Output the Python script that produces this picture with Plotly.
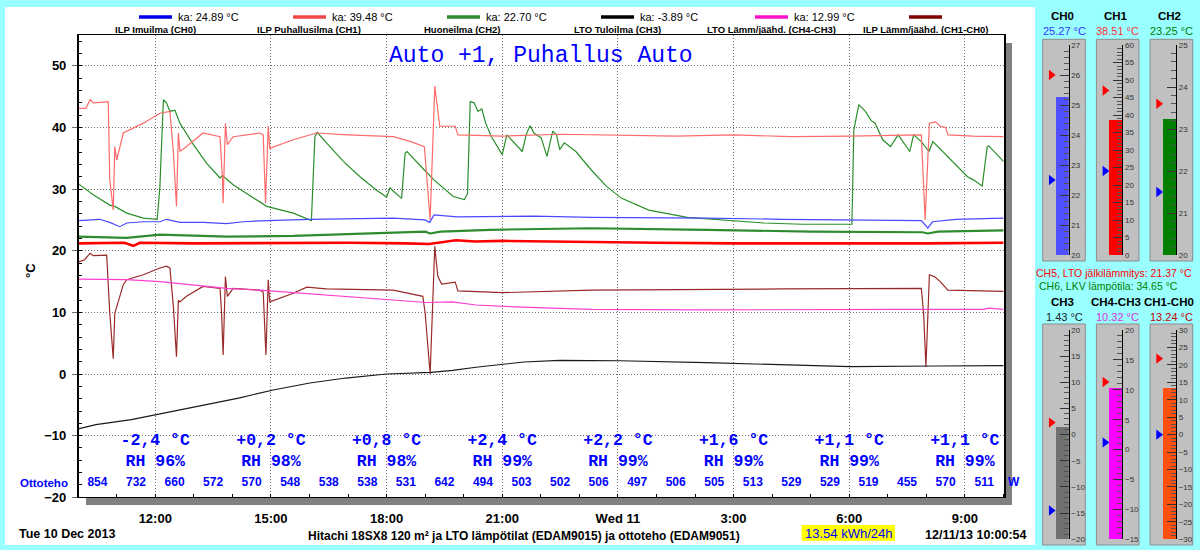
import pandas as pd
import plotly.graph_objects as go

W, H = 1200, 550
T0 = pd.Timestamp("2013-12-10 00:00:00")
T_START = "2013-12-10 10:00:50"
T_END = "2013-12-11 10:00:54"

# ---------------- data (hours since 10 Dec 00:00, values in degC) ----------------
ch0_h = [10.01, 10.56, 10.82, 11.08, 11.26, 11.69, 12.12, 12.29, 12.64, 13.24, 13.85, 14.28, 14.89, 16.01,
         18.17, 18.99, 19.12, 19.23, 19.83, 21.32, 21.82, 23.31, 26.29, 28.28, 30.02, 31.87, 32.04, 32.16,
         32.76, 34.0]
ch0_v = [24.9, 25.1, 24.6, 23.9, 24.5, 24.7, 24.7, 25.1, 24.6, 24.6, 24.4, 24.7, 24.9, 25.1,
         25.3, 25.0, 24.6, 25.8, 25.5, 25.5, 25.6, 25.4, 25.3, 25.1, 25.0, 24.9, 23.7, 24.7,
         25.1, 25.3]

ch1_h = [10.01, 10.2, 10.31, 10.4, 10.78, 10.82, 10.91, 10.95, 11.0, 11.17, 11.69, 12.12, 12.38, 12.47,
         12.55, 12.60, 12.64, 12.81, 13.24, 13.68, 13.74, 13.76, 13.82, 13.87, 14.02, 14.71, 14.80, 14.86,
         14.93, 14.97, 15.58, 16.18, 17.0, 18.17, 18.63, 18.98, 19.13, 19.25, 19.38, 19.78, 19.85, 21.0,
         22.5, 24.0, 25.5, 27.0, 28.5, 30.0, 31.0, 31.87, 31.97, 32.08, 32.24, 32.36, 32.50, 32.56, 33.2, 34.0]
ch1_v = [43.1, 43.1, 44.5, 44.0, 44.2, 31.5, 26.6, 36.9, 34.7, 39.1, 40.7, 42.3, 42.6, 36.0,
         27.2, 39.1, 36.1, 36.9, 39.1, 38.5, 32.0, 27.7, 40.7, 37.2, 38.5, 39.1, 38.8, 27.7,
         40.2, 36.6, 38.0, 39.1, 38.8, 38.5, 37.7, 36.9, 25.0, 46.7, 40.2, 40.2, 38.8, 38.6,
         38.9, 38.7, 38.6, 38.8, 38.5, 38.6, 38.7, 38.8, 25.0, 40.7, 40.9, 40.2, 40.0, 38.8, 38.6, 38.5]

ch2_h = [10.01, 11.26, 12.12, 13.85, 15.58, 17.31, 19.0, 19.13, 19.4, 20.7, 23.3, 26.3, 29.0, 31.9,
         32.04, 32.3, 34.0]
ch2_v = [22.3, 22.1, 22.6, 22.3, 22.4, 22.8, 23.1, 22.8, 23.1, 23.4, 23.65, 23.4, 23.1, 23.0,
         22.8, 23.1, 23.3]

ch3_h = [10.0, 10.46, 11.38, 12.31, 13.24, 14.16, 15.09, 16.01, 16.94, 18.0, 19.16, 19.71, 20.32, 21.0,
         21.56, 22.49, 24.04, 26.29, 28.28, 30.02, 32.26, 34.0]
ch3_v = [-8.9, -8.2, -7.4, -6.2, -5.0, -3.9, -2.55, -1.46, -0.65, 0.0, 0.27, 0.6, 1.1, 1.5,
         1.95, 2.2, 2.15, 1.84, 1.46, 1.2, 1.3, 1.35]

ch43_h = [10.01, 10.82, 11.26, 12.12, 12.99, 13.85, 14.71, 15.58, 16.44, 17.31, 18.17, 19.04, 19.7, 20.32,
          21.32, 23.31, 26.29, 29.3, 31.27, 33.5, 33.61, 34.0]
ch43_v = [15.4, 15.4, 15.3, 15.0, 14.5, 13.9, 13.6, 13.2, 12.8, 12.3, 12.0, 11.6, 11.7, 11.2,
          10.9, 10.5, 10.4, 10.5, 10.5, 10.5, 10.7, 10.5]

ch10_h = [10.01, 10.16, 10.31, 10.39, 10.74, 10.78, 10.82, 10.91, 10.95, 11.0, 11.17, 11.26, 11.69, 12.12,
          12.29, 12.38, 12.47, 12.55, 12.60, 12.64, 12.81, 13.24, 13.68, 13.72, 13.76, 13.82, 13.87, 14.02,
          14.71, 14.80, 14.87, 14.93, 14.97, 15.58, 15.93, 16.44, 18.17, 18.94, 19.0, 19.13, 19.25, 19.33,
          19.43, 19.78, 19.85, 21.0, 23.31, 28.28, 31.87, 31.93, 31.99, 32.08, 32.21, 32.36, 32.56, 34.0]
ch10_v = [18.2, 18.5, 19.6, 19.2, 19.3, 15.0, 9.85, 2.5, 9.85, 10.9, 14.5, 15.3, 16.1, 17.2,
          17.5, 17.2, 10.9, 2.8, 12.0, 11.7, 12.6, 14.2, 13.9, 9.9, 3.1, 15.8, 12.6, 13.9,
          13.6, 13.3, 3.1, 15.3, 11.7, 13.1, 14.1, 13.8, 13.6, 12.6, 9.9, 0.0, 20.7, 15.8,
          14.6, 14.9, 13.5, 13.2, 13.6, 13.8, 13.9, 9.85, 1.2, 16.1, 15.8, 15.0, 13.6, 13.4]

ch5_h = [10.01, 11.2, 11.43, 11.6, 13.0, 15.0, 17.0, 18.5, 19.1, 19.8, 20.3, 21.0, 23.0, 25.0, 27.0,
         28.3, 30.0, 32.0, 34.0]
ch5_v = [21.2, 21.3, 20.8, 21.3, 21.2, 21.3, 21.3, 21.2, 21.1, 21.7, 21.5, 21.6, 21.4, 21.3, 21.2,
         21.2, 21.1, 21.2, 21.3]

ch6_h = [10.01, 10.39, 10.82, 10.95, 11.26, 11.69, 12.05, 12.12, 12.21, 12.29, 12.38, 12.51, 12.64, 12.99,
         13.33, 13.68, 13.74, 13.80, 14.02, 14.37, 14.89, 15.58, 16.05, 16.14, 16.20, 16.44, 16.88, 17.31,
         17.74, 18.0, 18.09, 18.17, 18.39, 18.48, 18.53, 18.98, 19.23, 19.73, 20.02, 20.10, 20.17, 20.27,
         20.37, 20.47, 20.57, 20.72, 21.0, 21.12, 21.32, 21.52, 21.62, 21.72, 21.82, 22.01, 22.16, 22.31,
         22.41, 22.49, 22.61, 22.91, 23.31, 23.71, 24.1, 24.8, 25.8, 26.79, 27.79, 28.78, 30.07, 30.12,
         30.25, 30.42, 30.57, 30.67, 30.87, 31.07, 31.27, 31.57, 31.67, 31.87, 32.07, 32.17, 32.47, 32.77,
         33.07, 33.22, 33.45, 33.58, 33.62, 34.0]
ch6_v = [30.85, 29.1, 27.4, 27.2, 26.1, 25.3, 25.1, 30.4, 44.5, 44.0, 42.6, 42.8, 40.7, 37.2,
         34.2, 31.8, 32.2, 31.9, 30.7, 29.3, 27.2, 26.1, 24.9, 38.5, 39.2, 37.5, 34.5, 32.0,
         29.8, 28.7, 30.2, 29.7, 28.5, 35.8, 36.1, 33.1, 31.5, 28.8, 28.3, 29.3, 44.2, 44.0,
         42.6, 43.0, 40.7, 38.5, 35.6, 38.8, 37.5, 36.1, 38.8, 40.3, 39.1, 38.3, 35.3, 39.4,
         38.8, 36.4, 37.5, 36.1, 33.1, 30.4, 28.5, 26.6, 25.4, 25.0, 24.5, 24.3, 24.3, 39.6,
         43.7, 42.6, 41.1, 40.7, 38.0, 36.9, 38.8, 36.1, 38.8, 37.7, 36.1, 37.7, 35.8, 33.9,
         32.0, 31.5, 30.5, 36.9, 37.0, 34.5]

legend_names = ["ILP Imuilma (CH0)", "ILP Puhallusilma (CH1)", "Huoneilma (CH2)",
                "LTO Tuloilma (CH3)", "LTO Lämm/jäähd. (CH4-CH3)", "ILP Lämm/jäähd. (CH1-CH0)"]
legend_avgs = [24.89, 39.48, 22.70, -3.89, 12.99, None]

power_h = [10.5, 11.5, 12.5, 13.5, 14.5, 15.5, 16.5, 17.5, 18.5, 19.5, 20.5, 21.5,
           22.5, 23.5, 24.5, 25.5, 26.5, 27.5, 28.5, 29.5, 30.5, 31.5, 32.5, 33.5]
power_w = [854, 732, 660, 572, 570, 548, 538, 538, 531, 642, 494, 503,
           502, 506, 497, 506, 505, 513, 529, 529, 519, 455, 570, 511]

outdoor_h = [12, 15, 18, 21, 24, 27, 30, 33]
outdoor_t = ["-2,4", "+0,2", "+0,8", "+2,4", "+2,2", "+1,6", "+1,1", "+1,1"]
outdoor_rh = [96, 98, 98, 99, 99, 99, 99, 99]

tick_h = [12, 15, 18, 21, 24, 27, 30, 33]
tick_text = ["12:00", "15:00", "18:00", "21:00", "Wed 11", "3:00", "6:00", "9:00"]

g_names = ["CH0", "CH1", "CH2", "CH3", "CH4-CH3", "CH1-CH0"]
g_values = [25.27, 38.51, 23.25, 1.43, 10.32, 13.24]
g_lo = [20, 0, 20, -20, -15, -30]
g_hi = [27, 60, 25, 20, 20, 30]
g_major = [1, 5, 1, 5, 5, 5]
g_minor = [0.2, 1, 0.2, 1, 1, 1]
g_max_mark = [26.0, 47.0, 23.6, 2.3, 11.3, 21.8]
g_min_mark = [22.5, 24.0, 21.5, -14.5, 1.2, 0.0]

ch5_now = 21.37
ch6_now = 34.65
energy_kwh = 13.54

# ---------------- styles ----------------
SANS = "Liberation Sans"
MONO = "Liberation Mono"
legend_colors = ["#0000EE", "#F04848", "#2E8B2E", "#000000", "#FF10CC", "#800000"]
g_bar_color = ["#5050FF", "#FF0000", "#008000", "#707070", "#FF00FF", "#FF5010"]
g_text_color = ["#3333FF", "#FF3333", "#008000", "#222222", "#DD33DD", "#CC0000"]


def tt(hours):
    return [(T0 + pd.Timedelta(hours=h)).strftime("%Y-%m-%d %H:%M:%S") for h in hours]


def px(x):
    return x / W


def py(y):
    return 1 - y / H


fig = go.Figure()

series = [
    (ch6_h, ch6_v, "#2A8F2A", 1.2),
    (ch1_h, ch1_v, "#FF6A6A", 1.2),
    (ch0_h, ch0_v, "#4848FF", 1.2),
    (ch10_h, ch10_v, "#9A2A2A", 1.2),
    (ch43_h, ch43_v, "#FF3FD0", 1.2),
    (ch3_h, ch3_v, "#1A1A1A", 1.2),
    (ch2_h, ch2_v, "#2E8B2E", 2.2),
    (ch5_h, ch5_v, "#FF0000", 2.6),
]
for hs, vs, col, lw in series:
    fig.add_trace(go.Scatter(x=tt(hs), y=vs, mode="lines", line=dict(color=col, width=lw),
                             xaxis="x", yaxis="y", hoverinfo="skip"))

# power values (Ottoteho)
fig.add_trace(go.Scatter(x=tt(power_h), y=[-17.6] * len(power_h), mode="text",
                         text=[f"<b>{v}</b>" for v in power_w],
                         textfont=dict(family=SANS, size=12, color="#0000FF"),
                         xaxis="x", yaxis="y", hoverinfo="skip"))
# outdoor temperature / RH
fig.add_trace(go.Scatter(x=tt(outdoor_h), y=[-10.83] * len(outdoor_h), mode="text",
                         text=[f"<b>{t} °C</b>" for t in outdoor_t],
                         textfont=dict(family=MONO, size=16.5, color="#0000FF"),
                         xaxis="x", yaxis="y", hoverinfo="skip"))
fig.add_trace(go.Scatter(x=tt(outdoor_h), y=[-14.2] * len(outdoor_h), mode="text",
                         text=[f"<b>RH {r}%</b>" for r in outdoor_rh],
                         textfont=dict(family=MONO, size=16.5, color="#0000FF"),
                         xaxis="x", yaxis="y", hoverinfo="skip"))

shapes = []
annotations = []


def ann(text, x, y, size, color="black", bold=False, family=SANS, xanchor="center", angle=0):
    annotations.append(dict(text=(f"<b>{text}</b>" if bold else text), x=px(x), y=py(y),
                            xref="paper", yref="paper", xanchor=xanchor, yanchor="middle",
                            showarrow=False, textangle=angle,
                            font=dict(family=family, size=size, color=color)))


# white panel + shadows
shapes.append(dict(type="rect", xref="paper", yref="paper", x0=px(5), x1=px(1035), y0=py(545), y1=py(7),
                   fillcolor="white", line=dict(width=0), layer="below"))
shapes.append(dict(type="rect", xref="paper", yref="paper", x0=px(1004), x1=px(1012), y0=py(505), y1=py(43),
                   fillcolor="#808080", line=dict(width=0), layer="below"))
shapes.append(dict(type="rect", xref="paper", yref="paper", x0=px(86), x1=px(1012), y0=py(505), y1=py(497.3),
                   fillcolor="#808080", line=dict(width=0), layer="below"))

# legend
for i, (name, avg, col) in enumerate(zip(legend_names, legend_avgs, legend_colors)):
    cx = 155 + 154 * i
    shapes.append(dict(type="line", xref="paper", yref="paper", x0=px(cx - 16), x1=px(cx + 17),
                       y0=py(17), y1=py(17), line=dict(color=col, width=3.5)))
    if avg is not None:
        ann(f"ka: {avg:.2f} °C", cx + 21, 16.5, 11, xanchor="left")
    ann(name, cx, 29.5, 9.5, bold=True)

# title
ann("Auto +1, Puhallus Auto", 541, 56, 23, color="#0000FF", family=MONO)

# axis side labels
ann("°C", 30, 271, 13, bold=True, angle=-90)
ann("Ottoteho", 43.5, 483, 11.5, color="#0000FF", bold=True)
ann("W", 1014, 482, 12, color="#0000FF", bold=True)

# bottom texts
ann("Tue 10 Dec 2013", 17.3, 533.8, 12.5, bold=True, xanchor="left")
ann("Hitachi 18SX8 120 m² ja LTO lämpötilat (EDAM9015) ja ottoteho (EDAM9051)", 523.5, 535.5, 12, bold=True)
shapes.append(dict(type="rect", xref="paper", yref="paper", x0=px(801.7), x1=px(895), y0=py(540.7), y1=py(525),
                   fillcolor="#FFFF00", line=dict(width=0)))
ann(f"{energy_kwh:.2f} kWh/24h", 848.5, 533, 13, color="#0000FF")
ann("12/11/13 10:00:54", 976, 534.5, 12.5, bold=True)

# ---------------- gauges ----------------
GX0 = [1042.7, 1096.4, 1150.1]
ROW_BOX = [(39.3, 261.0), (324.0, 545.0)]
ROW_SCALE = [(45.0, 255.0), (330.0, 539.3)]
ROW_TITLE_Y = [16.0, 302.0]
ROW_VAL_Y = [31.0, 316.7]
BAR_L, BAR_R, AX_L = 13.3, 26.0, 3.0
X_LEFT = -(BAR_L - AX_L) / (BAR_R - BAR_L)

layout_axes = {}
for i in range(6):
    row, col = divmod(i, 3)
    n = i + 2
    gx0 = GX0[col]
    bt, bb = ROW_BOX[row]
    st, sb = ROW_SCALE[row]
    shapes.append(dict(type="rect", xref="paper", yref="paper", x0=px(gx0), x1=px(gx0 + 42.6),
                       y0=py(bb), y1=py(bt), fillcolor="#C0C0C0", line=dict(color="#8C8C8C", width=1),
                       layer="below"))
    layout_axes[f"xaxis{n}"] = dict(domain=[px(gx0 + AX_L), px(gx0 + BAR_R)], range=[X_LEFT, 1],
                                    visible=False, anchor=f"y{n}", fixedrange=True, automargin=False)
    layout_axes[f"yaxis{n}"] = dict(domain=[py(sb), py(st)], range=[g_lo[i], g_hi[i]], anchor=f"x{n}",
                                    side="right", showgrid=False, zeroline=False, showline=True,
                                    linecolor="black", linewidth=1, ticks="inside", ticklen=9,
                                    tickcolor="#333333", tick0=g_lo[i], dtick=g_major[i],
                                    tickfont=dict(family=SANS, size=8, color="#333333"),
                                    minor=dict(dtick=g_minor[i], tick0=g_lo[i], ticks="inside", ticklen=5,
                                               tickcolor="#555555", showgrid=False),
                                    fixedrange=True, automargin=False)
    fig.add_trace(go.Bar(x=[0.5], y=[g_values[i] - g_lo[i]], base=[g_lo[i]], width=[1.0],
                         marker=dict(color=g_bar_color[i], line=dict(width=0)),
                         xaxis=f"x{n}", yaxis=f"y{n}", hoverinfo="skip"))
    fig.add_trace(go.Scatter(x=[-0.38, -0.38], y=[g_max_mark[i], g_min_mark[i]], mode="markers",
                             marker=dict(symbol="triangle-right", size=9, color=["#FF0000", "#0000FF"],
                                         line=dict(width=0)),
                             cliponaxis=False, xaxis=f"x{n}", yaxis=f"y{n}", hoverinfo="skip"))
    ann(g_names[i], gx0 + 19.3, ROW_TITLE_Y[row], 11.5, bold=True)
    ann(f"{g_values[i]:.2f} °C", gx0 + 21.3, ROW_VAL_Y[row], 11, color=g_text_color[i])

ann(f"CH5, LTO jälkilämmitys: {ch5_now:.2f} °C", 1114, 272.7, 10.5, color="#FF0000")
ann(f"CH6, LKV lämpötila: {ch6_now:.2f} °C", 1108, 286, 10.5, color="#008000")

GRID = "#707070"
DASH = "1px,2px"
fig.update_layout(
    width=W, height=H, margin=dict(l=0, r=0, t=0, b=0, pad=0), autosize=False,
    paper_bgcolor="#99FFFF", plot_bgcolor="rgba(0,0,0,0)",
    showlegend=False, hovermode=False, bargap=0,
    shapes=shapes, annotations=annotations,
    xaxis=dict(domain=[px(78.7), px(1004)], range=[T_START, T_END], type="date",
               tickmode="array", tickvals=tt(tick_h), ticktext=tick_text,
               showgrid=True, gridcolor=GRID, griddash=DASH, gridwidth=1,
               showline=True, linecolor="black", linewidth=1, mirror=True, zeroline=False,
               ticks="", ticklabelstandoff=9, automargin=False,
               tickfont=dict(family=SANS, size=13, color="black", weight="bold"),
               minor=dict(dtick=3600000, tick0="2013-12-10 00:00:00", ticks="inside", ticklen=3,
                          tickcolor="black", showgrid=False),
               anchor="y", fixedrange=True),
    yaxis=dict(domain=[py(497.3), py(35)], range=[-20, 55], tickmode="array",
               tickvals=[-20, -10, 0, 10, 20, 30, 40, 50],
               showgrid=True, gridcolor=GRID, griddash=DASH, gridwidth=1, zeroline=False,
               showline=True, linecolor="black", linewidth=1.5, mirror=True,
               ticks="outside", ticklen=5, tickcolor=GRID, ticklabelstandoff=3, automargin=False,
               tickfont=dict(family=SANS, size=13, color="black", weight="bold"),
               minor=dict(dtick=2, tick0=0, ticks="inside", ticklen=4, tickcolor="black", showgrid=False),
               anchor="x", fixedrange=True),
    **layout_axes,
)

fig.write_html("out.html",
               config={"displayModeBar": False, "responsive": False},
               post_script="document.body.style.margin='0px';document.body.style.overflow='hidden';"
                           "document.body.style.background='#99FFFF';")
